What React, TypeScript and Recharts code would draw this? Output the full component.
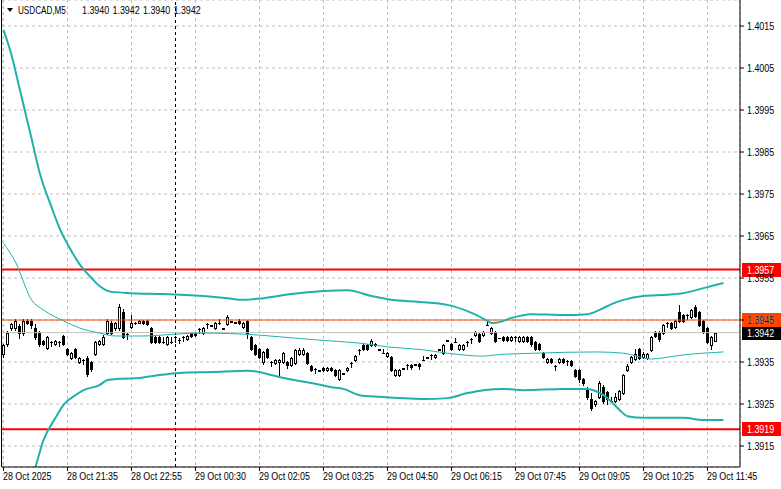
import React from "react";
import { ComposedChart, Bar, Line, XAxis, YAxis, CartesianGrid, ReferenceLine } from "recharts";

const FONT = "'Liberation Sans', Arial, sans-serif";
const NARROW = 0.81; // squeeze Liberation Sans to the terminal's narrow UI font
const BAND = "#20B2AA";

// x axis: one bar every 5 minutes, a time label every 16 bars
const timeTicks = [0, 16, 32, 48, 64, 80, 96, 112, 128, 144, 160, 176];
const timeLabels = [
  "28 Oct 2025", "28 Oct 21:35", "28 Oct 22:55", "29 Oct 00:30", "29 Oct 02:05", "29 Oct 03:25",
  "29 Oct 04:50", "29 Oct 06:15", "29 Oct 07:45", "29 Oct 09:05", "29 Oct 10:25", "29 Oct 11:45",
];
const priceTicks = [1.3915, 1.3925, 1.3935, 1.3945, 1.3955, 1.3965, 1.3975, 1.3985, 1.3995, 1.4005, 1.4015];

// USDCAD M5 candles
const opens = [
  1.39369, 1.39393, 1.39431, 1.39431, 1.39436, 1.39419, 1.39448, 1.39448, 1.39431, 1.39419,
  1.39400, 1.39383, 1.39398, 1.39393, 1.39398, 1.39412, 1.39381, 1.39360, 1.39381, 1.39350,
  1.39355, 1.39360, 1.39350, 1.39369, 1.39393, 1.39393, 1.39419, 1.39443, 1.39431, 1.39431,
  1.39469, 1.39417, 1.39433, 1.39443, 1.39443, 1.39448, 1.39448, 1.39431, 1.39410, 1.39410,
  1.39398, 1.39393, 1.39398, 1.39410, 1.39402, 1.39410, 1.39405, 1.39419, 1.39419, 1.39429,
  1.39419, 1.39440, 1.39438, 1.39431, 1.39443, 1.39431, 1.39440, 1.39448, 1.39445, 1.39448,
  1.39433, 1.39448, 1.39410, 1.39390, 1.39381, 1.39350, 1.39381, 1.39350, 1.39348, 1.39350,
  1.39350, 1.39350, 1.39343, 1.39348, 1.39369, 1.39369, 1.39372, 1.39340, 1.39333, 1.39331,
  1.39336, 1.39331, 1.39336, 1.39331, 1.39310, 1.39324, 1.39331, 1.39348, 1.39355, 1.39379,
  1.39391, 1.39391, 1.39391, 1.39393, 1.39381, 1.39371, 1.39364, 1.39362, 1.39319, 1.39319,
  1.39336, 1.39343, 1.39343, 1.39345, 1.39345, 1.39355, 1.39362, 1.39367, 1.39362, 1.39380,
  1.39371, 1.39402, 1.39393, 1.39398, 1.39381, 1.39381, 1.39398, 1.39405, 1.39414, 1.39417,
  1.39414, 1.39438, 1.39419, 1.39421, 1.39408, 1.39410, 1.39410, 1.39402, 1.39410, 1.39400,
  1.39400, 1.39410, 1.39410, 1.39398, 1.39393, 1.39372, 1.39350, 1.39357, 1.39340, 1.39350,
  1.39357, 1.39352, 1.39352, 1.39331, 1.39331, 1.39310, 1.39286, 1.39262, 1.39250, 1.39267,
  1.39290, 1.39278, 1.39257, 1.39257, 1.39262, 1.39276, 1.39331, 1.39350, 1.39357, 1.39381,
  1.39362, 1.39360, 1.39379, 1.39421, 1.39421, 1.39419, 1.39443, 1.39443, 1.39433, 1.39469,
  1.39462, 1.39462, 1.39457, 1.39481, 1.39469, 1.39448, 1.39431, 1.39391, 1.39400,
];
const highs = [
  1.39393, 1.39424, 1.39443, 1.39452, 1.39440, 1.39452, 1.39452, 1.39452, 1.39440, 1.39424,
  1.39402, 1.39412, 1.39400, 1.39402, 1.39400, 1.39414, 1.39383, 1.39374, 1.39383, 1.39362,
  1.39357, 1.39364, 1.39352, 1.39400, 1.39402, 1.39414, 1.39452, 1.39448, 1.39445, 1.39488,
  1.39476, 1.39419, 1.39462, 1.39445, 1.39450, 1.39450, 1.39450, 1.39433, 1.39412, 1.39412,
  1.39410, 1.39412, 1.39410, 1.39412, 1.39407, 1.39412, 1.39414, 1.39421, 1.39421, 1.39431,
  1.39433, 1.39443, 1.39438, 1.39445, 1.39452, 1.39431, 1.39462, 1.39448, 1.39445, 1.39452,
  1.39445, 1.39450, 1.39412, 1.39393, 1.39383, 1.39376, 1.39383, 1.39352, 1.39357, 1.39357,
  1.39374, 1.39352, 1.39362, 1.39381, 1.39383, 1.39383, 1.39374, 1.39343, 1.39335, 1.39331,
  1.39338, 1.39338, 1.39338, 1.39333, 1.39333, 1.39324, 1.39338, 1.39350, 1.39367, 1.39381,
  1.39393, 1.39393, 1.39405, 1.39395, 1.39381, 1.39381, 1.39374, 1.39364, 1.39333, 1.39333,
  1.39336, 1.39345, 1.39345, 1.39345, 1.39348, 1.39364, 1.39362, 1.39369, 1.39369, 1.39380,
  1.39393, 1.39402, 1.39395, 1.39407, 1.39393, 1.39393, 1.39400, 1.39407, 1.39424, 1.39419,
  1.39424, 1.39448, 1.39433, 1.39424, 1.39408, 1.39412, 1.39412, 1.39412, 1.39412, 1.39412,
  1.39412, 1.39412, 1.39412, 1.39400, 1.39395, 1.39374, 1.39360, 1.39360, 1.39342, 1.39360,
  1.39360, 1.39354, 1.39355, 1.39333, 1.39333, 1.39312, 1.39290, 1.39276, 1.39260, 1.39305,
  1.39295, 1.39281, 1.39267, 1.39276, 1.39283, 1.39321, 1.39345, 1.39364, 1.39381, 1.39383,
  1.39374, 1.39371, 1.39412, 1.39424, 1.39424, 1.39440, 1.39445, 1.39445, 1.39450, 1.39486,
  1.39464, 1.39464, 1.39476, 1.39486, 1.39471, 1.39450, 1.39433, 1.39412, 1.39420,
];
const lows = [
  1.39362, 1.39388, 1.39426, 1.39426, 1.39407, 1.39415, 1.39440, 1.39431, 1.39405, 1.39388,
  1.39390, 1.39381, 1.39388, 1.39390, 1.39388, 1.39390, 1.39367, 1.39357, 1.39360, 1.39348,
  1.39345, 1.39317, 1.39329, 1.39367, 1.39390, 1.39390, 1.39417, 1.39417, 1.39426, 1.39426,
  1.39407, 1.39405, 1.39430, 1.39441, 1.39443, 1.39440, 1.39438, 1.39395, 1.39395, 1.39395,
  1.39396, 1.39390, 1.39396, 1.39398, 1.39395, 1.39400, 1.39402, 1.39410, 1.39412, 1.39419,
  1.39417, 1.39431, 1.39436, 1.39429, 1.39440, 1.39429, 1.39438, 1.39446, 1.39443, 1.39441,
  1.39431, 1.39407, 1.39379, 1.39367, 1.39360, 1.39345, 1.39360, 1.39340, 1.39345, 1.39319,
  1.39348, 1.39336, 1.39340, 1.39345, 1.39367, 1.39367, 1.39345, 1.39329, 1.39324, 1.39329,
  1.39329, 1.39329, 1.39329, 1.39317, 1.39307, 1.39322, 1.39329, 1.39338, 1.39352, 1.39369,
  1.39379, 1.39379, 1.39388, 1.39388, 1.39379, 1.39371, 1.39362, 1.39329, 1.39317, 1.39317,
  1.39334, 1.39333, 1.39333, 1.39343, 1.39333, 1.39355, 1.39360, 1.39357, 1.39360, 1.39378,
  1.39369, 1.39400, 1.39379, 1.39398, 1.39379, 1.39379, 1.39388, 1.39395, 1.39412, 1.39398,
  1.39412, 1.39438, 1.39417, 1.39398, 1.39406, 1.39400, 1.39400, 1.39400, 1.39400, 1.39398,
  1.39398, 1.39398, 1.39388, 1.39379, 1.39379, 1.39360, 1.39348, 1.39348, 1.39331, 1.39348,
  1.39348, 1.39343, 1.39340, 1.39314, 1.39302, 1.39295, 1.39262, 1.39236, 1.39245, 1.39264,
  1.39252, 1.39250, 1.39257, 1.39255, 1.39260, 1.39274, 1.39329, 1.39348, 1.39355, 1.39357,
  1.39360, 1.39357, 1.39376, 1.39410, 1.39400, 1.39417, 1.39433, 1.39429, 1.39431, 1.39445,
  1.39445, 1.39452, 1.39455, 1.39457, 1.39436, 1.39419, 1.39395, 1.39381, 1.39400,
];
const closes = [
  1.39390, 1.39419, 1.39440, 1.39448, 1.39419, 1.39448, 1.39443, 1.39438, 1.39410, 1.39393,
  1.39393, 1.39410, 1.39398, 1.39400, 1.39398, 1.39393, 1.39369, 1.39372, 1.39362, 1.39360,
  1.39355, 1.39321, 1.39333, 1.39398, 1.39400, 1.39410, 1.39448, 1.39419, 1.39443, 1.39481,
  1.39410, 1.39417, 1.39443, 1.39443, 1.39448, 1.39443, 1.39441, 1.39398, 1.39398, 1.39398,
  1.39398, 1.39410, 1.39398, 1.39410, 1.39402, 1.39410, 1.39412, 1.39412, 1.39414, 1.39429,
  1.39431, 1.39440, 1.39436, 1.39443, 1.39443, 1.39429, 1.39457, 1.39446, 1.39443, 1.39443,
  1.39443, 1.39419, 1.39381, 1.39369, 1.39362, 1.39374, 1.39362, 1.39350, 1.39355, 1.39355,
  1.39372, 1.39343, 1.39360, 1.39379, 1.39379, 1.39379, 1.39348, 1.39331, 1.39333, 1.39329,
  1.39331, 1.39336, 1.39331, 1.39319, 1.39331, 1.39322, 1.39336, 1.39348, 1.39365, 1.39379,
  1.39381, 1.39381, 1.39400, 1.39390, 1.39379, 1.39371, 1.39371, 1.39331, 1.39331, 1.39331,
  1.39334, 1.39343, 1.39338, 1.39343, 1.39340, 1.39355, 1.39360, 1.39367, 1.39367, 1.39378,
  1.39391, 1.39400, 1.39381, 1.39398, 1.39391, 1.39391, 1.39398, 1.39405, 1.39421, 1.39400,
  1.39421, 1.39438, 1.39431, 1.39400, 1.39406, 1.39402, 1.39402, 1.39410, 1.39410, 1.39410,
  1.39410, 1.39400, 1.39393, 1.39381, 1.39381, 1.39362, 1.39357, 1.39350, 1.39340, 1.39357,
  1.39350, 1.39352, 1.39343, 1.39317, 1.39310, 1.39300, 1.39267, 1.39241, 1.39257, 1.39300,
  1.39257, 1.39262, 1.39257, 1.39267, 1.39281, 1.39319, 1.39340, 1.39362, 1.39369, 1.39360,
  1.39369, 1.39369, 1.39410, 1.39412, 1.39405, 1.39438, 1.39443, 1.39431, 1.39448, 1.39448,
  1.39448, 1.39462, 1.39474, 1.39460, 1.39438, 1.39421, 1.39398, 1.39410, 1.39420,
];

// Bollinger bands, read at the bars listed in each index array
const upperIdx = [0, 2, 4, 7, 9, 12, 14, 17, 19, 22, 24, 27, 32, 40, 50, 56, 60, 65, 72, 80, 86, 92, 97, 104, 111, 117, 121, 122, 124, 127, 132, 140, 146, 149, 152, 155, 160, 166, 170, 175, 180];
const upperVal = [
  1.40141, 1.40081, 1.40002, 1.39883, 1.39802, 1.39719, 1.39669, 1.39614, 1.39583, 1.3955,
  1.39531, 1.39517, 1.39514, 1.39512, 1.39507, 1.39502, 1.39498, 1.39502, 1.39512, 1.39519,
  1.39521, 1.39507, 1.39498, 1.39493, 1.39486, 1.39467, 1.39448, 1.39443, 1.39445, 1.39455,
  1.39464, 1.39462, 1.39464, 1.39474, 1.39488, 1.39498, 1.39507, 1.3951, 1.39514, 1.39526,
  1.39538,
];
const middleIdx = [0, 3, 7, 10, 15, 19, 24, 28, 35, 44, 49, 64, 69, 79, 89, 96, 105, 111, 120, 123, 133, 148, 155, 162, 165, 170, 175, 180];
const middleVal = [
  1.39633, 1.39588, 1.39498, 1.39474, 1.39448, 1.39431, 1.39419, 1.39412, 1.39412, 1.39417,
  1.39419, 1.39414, 1.3941, 1.39402, 1.39395, 1.39386, 1.39379, 1.39371, 1.39364, 1.39367,
  1.39371, 1.39374, 1.39371, 1.39357, 1.3936, 1.39367, 1.39371, 1.39374,
];
const lowerIdx = [7, 8, 10, 13, 15, 18, 20, 24, 26, 29, 34, 39, 44, 52, 61, 64, 67, 71, 77, 82, 85, 89, 94, 105, 111, 116, 120, 125, 130, 140, 146, 148, 150, 152, 154, 156, 160, 170, 175, 180];
const lowerVal = [
  1.39069, 1.391, 1.39164, 1.39217, 1.39248, 1.39271, 1.39283, 1.39295, 1.39307, 1.3931,
  1.39312, 1.39319, 1.39324, 1.39326, 1.39329, 1.39326, 1.39319, 1.3931, 1.393, 1.3929,
  1.39286, 1.39271, 1.39267, 1.39262, 1.39264, 1.39276, 1.39283, 1.39286, 1.39283, 1.39286,
  1.39286, 1.39281, 1.39271, 1.39255, 1.39236, 1.39221, 1.39217, 1.39217, 1.39212, 1.39212,
];

// horizontal levels
const resistance = 1.3957;
const pivot = 1.3945;
const bid = 1.3942;
const support = 1.3919;
const markerBar = 43;

const lastBar = upperIdx[upperIdx.length - 1];
const data = Array.from({ length: lastBar + 1 }, (_, i) => {
  const row: any = { i };
  if (i < opens.length) {
    const o = opens[i], c = closes[i];
    const h = Math.max(highs[i], o, c);
    const l = Math.min(lows[i], o, c);
    row.o = o; row.h = h; row.l = l; row.c = c;
    row.range = [l, h];
  }
  const u = upperIdx.indexOf(i);
  if (u >= 0) row.upper = upperVal[u];
  const m = middleIdx.indexOf(i);
  if (m >= 0) row.middle = middleVal[m];
  const d = lowerIdx.indexOf(i);
  if (d >= 0) row.lower = lowerVal[d];
  return row;
});

function NarrowText({ x, y, fill = "#000", sx = NARROW, children }: any) {
  return (
    <text
      transform={`translate(${x},${y}) scale(${sx},1)`}
      fontSize={11}
      fontFamily={FONT}
      fill={fill}
      textAnchor="start"
    >
      {children}
    </text>
  );
}

function Candle(props: any) {
  const { x, y, width, height, payload } = props;
  if (!payload || payload.o == null) return null;
  const { o, h, l, c } = payload;
  const top0 = Math.min(y, y + height);
  const k = Math.abs(height) / (h - l);
  const py = (v: number) => top0 + (h - v) * k;
  const cx = Math.floor(x + width / 2);
  const yH = Math.round(py(h));
  const yL = Math.round(py(l));
  const top = Math.round(py(Math.max(o, c)));
  const bot = Math.round(py(Math.min(o, c)));
  const up = c > o && bot > top;
  return (
    <g shapeRendering="crispEdges">
      <rect x={cx} y={yH} width={1} height={Math.max(1, yL - yH + 1)} fill="#000" />
      {up ? (
        <rect x={cx - 0.5} y={top + 0.5} width={2} height={bot - top} fill="#fff" stroke="#000" strokeWidth={1} />
      ) : (
        <rect x={cx - 1} y={top} width={3} height={Math.max(1, bot - top + 1)} fill="#000" />
      )}
    </g>
  );
}

function TimeTick(props: any) {
  const { x, payload } = props;
  const idx = timeTicks.indexOf(payload.value);
  return <NarrowText x={x - 0.5} y={480}>{timeLabels[idx]}</NarrowText>;
}

function PriceTick(props: any) {
  const { x, y, payload } = props;
  return <NarrowText x={x} y={y + 4}>{payload.value.toFixed(4)}</NarrowText>;
}

function PriceTag(props: any) {
  const { viewBox, value, bg } = props;
  if (!viewBox) return null;
  const right = viewBox.x + viewBox.width;
  const yy = Math.round(viewBox.y);
  return (
    <g>
      <rect x={right + 2} y={yy - 7} width={40} height={14} fill={bg} />
      <NarrowText x={right + 7} y={yy + 4} fill="#fff">{value.toFixed(4)}</NarrowText>
    </g>
  );
}

export default function App() {
  const last = data[opens.length - 1];
  const ohlc = [last.o, last.h, last.l, last.c].map((v: number) => v.toFixed(4));
  return (
    <div style={{ position: "absolute", left: 0, top: 0, width: 781, height: 489, background: "#fff" }}>
      <ComposedChart width={781} height={489} data={data} margin={{ top: 0, right: 0, bottom: 0, left: 2 }}>
        <CartesianGrid stroke="#C0C0C0" strokeDasharray="3 3" />
        <XAxis
          dataKey="i"
          type="number"
          domain={[-0.375, 184.125]}
          allowDataOverflow
          ticks={timeTicks}
          interval={0}
          height={22}
          tickSize={4}
          tick={<TimeTick />}
          axisLine={{ stroke: "#000" }}
          tickLine={{ stroke: "#000" }}
        />
        <YAxis
          orientation="right"
          type="number"
          domain={[1.391, 1.40212]}
          allowDataOverflow
          ticks={priceTicks}
          interval={0}
          width={41}
          tickSize={4}
          tickMargin={3}
          tick={<PriceTick />}
          axisLine={{ stroke: "#000" }}
          tickLine={{ stroke: "#000" }}
        />
        <ReferenceLine x={markerBar} stroke="#000" strokeDasharray="3 3" />
        <ReferenceLine y={bid} stroke="#C0C0C0" label={<PriceTag value={bid} bg="#000" />} />
        <ReferenceLine y={pivot} stroke="#FF4500" label={<PriceTag value={pivot} bg="#FF4500" />} />
        <ReferenceLine y={resistance} stroke="#FF0000" strokeWidth={2} label={<PriceTag value={resistance} bg="#FF0000" />} />
        <ReferenceLine y={support} stroke="#FF0000" strokeWidth={2} label={<PriceTag value={support} bg="#FF0000" />} />
        <Line dataKey="upper" type="monotone" stroke={BAND} strokeWidth={2} dot={false} connectNulls isAnimationActive={false} />
        <Line dataKey="middle" type="monotone" stroke={BAND} strokeWidth={1} dot={false} connectNulls isAnimationActive={false} />
        <Line dataKey="lower" type="monotone" stroke={BAND} strokeWidth={2} dot={false} connectNulls isAnimationActive={false} />
        <Bar dataKey="range" barSize={4} shape={<Candle />} isAnimationActive={false} />
      </ComposedChart>
      <div style={{ position: "absolute", left: 1, top: 0, width: 1, height: 467, background: "#000" }} />
      <svg width={230} height={20} style={{ position: "absolute", left: 0, top: 0 }}>
        <polygon points="7,8 13,8 10,12" fill="#000" />
        <NarrowText x={18} y={14} sx={0.74}>USDCAD,M5</NarrowText>
        {ohlc.map((v, k) => (
          <NarrowText key={k} x={82 + k * 30.5} y={14}>{v}</NarrowText>
        ))}
      </svg>
    </div>
  );
}
